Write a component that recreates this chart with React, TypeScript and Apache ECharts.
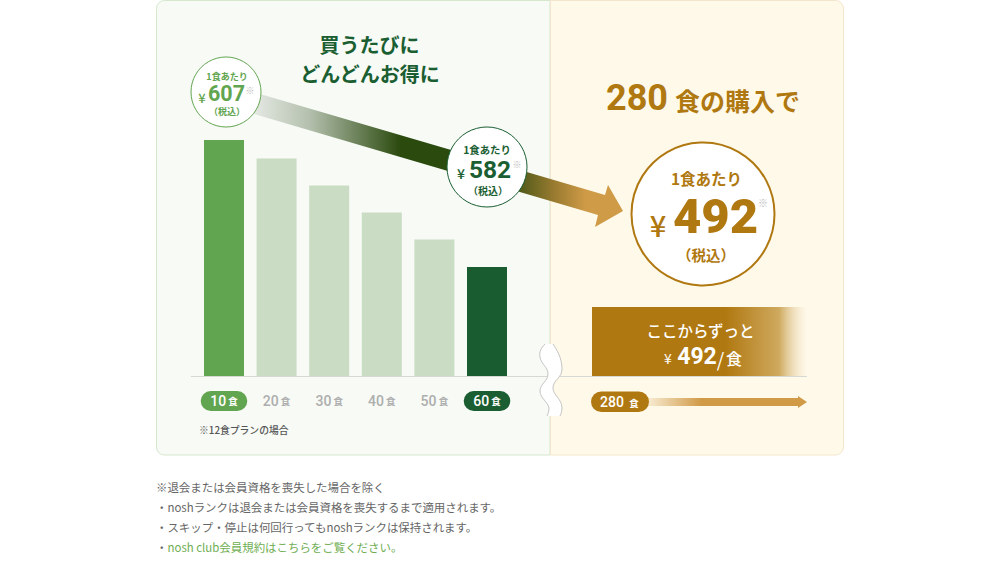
import { useEffect, useRef } from 'react';
import * as echarts from 'echarts';

const categories = ['10', '20', '30', '40', '50', '60'];
const barHeights = [100, 92.2, 80.7, 69.3, 57.8, 46.2];
const longTermCategory = ['280'];
const longTermHeight = [29.2];
const prices = ['607', '582', '492'];

const notes = [
  '※退会または会員資格を喪失した場合を除く',
  '・noshランクは退会または会員資格を喪失するまで適用されます。',
  '・スキップ・停止は何回行ってもnoshランクは保持されます。',
];

const GREEN = '#62a550';
const PALE = '#cadcc4';
const DARK = '#1a5e32';
const GOLD = '#b07810';
const MARK = '#b8b8b8';
const JP = '"Noto Sans CJK JP", sans-serif';
const NUM = 'Roboto, "Noto Sans CJK JP", sans-serif';

// くねくねの省略マーク
const waveLeft = 'M545 344 C541 348 539 352 540 357 C541 364 548 367 548 374 C548 381 540 384 540 391 C540 398 548 402 549 408 C549 411 548 414 547 416';
const waveRight = 'M553 344 C557 350 562 358 562 369 C562 378 553 380 553 388 C553 395 562 399 562 408 C562 411 561 414 560 416';
const waveFill = waveLeft + ' L560 416 C561 414 562 411 562 408 C562 399 553 395 553 388 C553 380 562 378 562 369 C562 358 557 350 553 344 Z';

echarts.graphic.registerShape('waveLeft', echarts.graphic.extendPath(waveLeft, {}) as any);
echarts.graphic.registerShape('waveRight', echarts.graphic.extendPath(waveRight, {}) as any);
echarts.graphic.registerShape('waveFill', echarts.graphic.extendPath(waveFill, {}) as any);

const label = (
  text: string,
  x: number,
  y: number,
  fontSize: number,
  fill: string,
  fontWeight: number | string = 700,
  align: string = 'center',
  fontFamily: string = JP,
) => ({
  type: 'text',
  z: 20,
  style: { text, x, y, fontSize, fill, fontWeight, fontFamily, align, verticalAlign: 'middle' },
});

const circle = (cx: number, cy: number, r: number, stroke: string, lineWidth: number) => ({
  type: 'circle',
  z: 15,
  shape: { cx, cy, r },
  style: { fill: '#fff', stroke, lineWidth },
});

const pillStyle = (backgroundColor: string) => ({
  backgroundColor,
  borderRadius: 11,
  padding: [3, 9.5, 3, 9.5],
});

export default function App() {
  const chartRef = useRef<HTMLDivElement>(null);

  useEffect(() => {
    if (!chartRef.current) return;
    const chart = echarts.init(chartRef.current, null, { renderer: 'svg' });

    const arrowGradient = new echarts.graphic.LinearGradient(
      250, 0, 600, 0,
      [
        { offset: 0, color: '#e8ece6' },
        { offset: 0.17, color: '#b4c0ae' },
        { offset: 0.43, color: '#2b4a0e' },
        { offset: 0.72, color: '#2b4a0e' },
        { offset: 0.87, color: '#9a7b30' },
        { offset: 0.96, color: '#cf9b47' },
        { offset: 1, color: '#cf9b47' },
      ],
      true,
    );

    const option: any = {
      animation: false,
      backgroundColor: '#fff',
      grid: [
        { left: 197.7, width: 315.6, top: 140, height: 236 },
        { left: 592, width: 215, top: 140, height: 236 },
      ],
      xAxis: [
        {
          type: 'category',
          gridIndex: 0,
          data: categories.map((c, i) => ({
            value: c,
            textStyle: i === 0 ? pillStyle(GREEN) : i === 5 ? pillStyle(DARK) : pillStyle('transparent'),
          })),
          axisLine: { show: false },
          axisTick: { show: false },
          axisLabel: {
            interval: 0,
            margin: 15,
            formatter: (v: string) => {
              const on = v === categories[0] || v === categories[5];
              return on ? `{on|${v}}{onU| 食}` : `{off|${v}}{offU| 食}`;
            },
            rich: {
              on: { fontFamily: NUM, fontSize: 14, fontWeight: 500, color: '#fff' },
              onU: { fontFamily: JP, fontSize: 9.5, fontWeight: 700, color: '#fff' },
              off: { fontFamily: NUM, fontSize: 14, fontWeight: 500, color: '#aeaeae' },
              offU: { fontFamily: JP, fontSize: 9.5, fontWeight: 700, color: '#aeaeae' },
            },
          },
        },
        {
          type: 'category',
          gridIndex: 1,
          data: longTermCategory,
          axisLine: { show: false },
          axisTick: { show: false },
          axisLabel: { show: false },
        },
      ],
      yAxis: [
        { type: 'value', gridIndex: 0, min: 0, max: 100, show: false },
        { type: 'value', gridIndex: 1, min: 0, max: 100, show: false },
      ],
      series: [
        {
          type: 'bar',
          xAxisIndex: 0,
          yAxisIndex: 0,
          barWidth: 40,
          data: barHeights.map((v, i) => ({
            value: v,
            itemStyle: { color: i === 0 ? GREEN : i === 5 ? '#185c30' : PALE },
          })),
        },
        {
          type: 'bar',
          xAxisIndex: 1,
          yAxisIndex: 1,
          barWidth: '100%',
          data: longTermHeight,
          itemStyle: {
            color: new echarts.graphic.LinearGradient(0, 0, 1, 0, [
              { offset: 0, color: GOLD },
              { offset: 0.62, color: GOLD },
              { offset: 0.87, color: '#cfa95f' },
              { offset: 1, color: 'rgba(255,249,234,0.4)' },
            ]),
          },
        },
      ],
      graphic: {
        elements: [
          // パネル
          {
            type: 'rect',
            z: -2,
            shape: { x: 156.5, y: 0.5, width: 393.5, height: 454.5, r: [8, 0, 0, 8] },
            style: { fill: '#f7faf5', stroke: '#d5e8cd', lineWidth: 1 },
          },
          {
            type: 'rect',
            z: -2,
            shape: { x: 550.5, y: 0.5, width: 293, height: 454.5, r: [0, 8, 8, 0] },
            style: { fill: '#fff9ea', stroke: '#f4e6cc', lineWidth: 1 },
          },
          {
            type: 'line',
            z: -1,
            shape: { x1: 191, y1: 376.5, x2: 807, y2: 376.5 },
            style: { stroke: '#d6d9d3', lineWidth: 1 },
          },

          // 見出し
          label('買うたびに', 369.5, 44, 20, DARK),
          label('どんどんお得に', 370, 73, 20, DARK),
          label('280', 637, 98, 36, GOLD, 700, 'center', NUM),
          label('食の購入で', 737.5, 100, 25, GOLD),

          // 矢印
          {
            type: 'polygon',
            z: 10,
            shape: {
              points: [
                [250, 91], [605, 195], [608, 185], [623, 211],
                [595, 227], [598, 215], [244, 111],
              ],
            },
            style: { fill: arrowGradient },
          },

          // 607
          circle(226, 92, 35, GREEN, 1),
          label('1食あたり', 227, 76, 9, GREEN),
          label('¥', 202, 97, 13, GREEN, 500),
          label(prices[0], 226.5, 93.5, 21.5, GREEN, 700, 'center', NUM),
          label('※', 250, 90, 9, MARK, 400),
          label('（税込）', 227, 111, 9, GREEN),

          // 582
          circle(487, 167, 40, DARK, 1),
          label('1食あたり', 487, 149, 10.4, DARK),
          label('¥', 461, 173, 14, DARK, 500),
          label(prices[1], 490, 169, 24.5, DARK, 700, 'center', NUM),
          label('※', 517, 164, 9, MARK, 400),
          label('（税込）', 488, 190, 10, DARK),

          // 492
          circle(703, 214, 71.5, GOLD, 2),
          label('1食あたり', 706.5, 178, 15.5, GOLD),
          label('¥', 658, 224, 29, GOLD, 500),
          label(prices[2], 715.5, 216, 49, GOLD, 900, 'center', NUM),
          label('※', 763, 202, 10, MARK, 400),
          label('（税込）', 706, 254, 14.5, GOLD),

          // 帯
          label('ここからずっと', 700.5, 330, 15.5, '#fff', 500),
          label('¥', 668, 358, 14, '#fff', 400),
          label(prices[2], 697, 356, 23, '#fff', 700, 'center', NUM),
          label('/', 720.5, 358, 19, '#fff', 400),
          label('食', 734, 358, 16, '#fff', 500),

          // 280食
          {
            type: 'polygon',
            z: 5,
            shape: {
              points: [
                [645, 398], [798, 398], [798, 396], [807, 402],
                [798, 408], [798, 406], [645, 406],
              ],
            },
            style: {
              fill: new echarts.graphic.LinearGradient(645, 0, 807, 0, [
                { offset: 0, color: 'rgba(208,154,71,0.1)' },
                { offset: 0.35, color: '#d09a47' },
                { offset: 1, color: '#d09a47' },
              ], true),
            },
          },
          {
            type: 'rect',
            z: 10,
            shape: { x: 591, y: 391.5, width: 58, height: 20.5, r: 10.25 },
            style: { fill: GOLD },
          },
          label(longTermCategory[0], 612, 402, 14, '#fff', 500, 'center', NUM),
          label('食', 634, 402.5, 9.5, '#fff'),

          // 省略マーク
          { type: 'waveFill', z: 12, x: 0, y: 0, style: { fill: '#fff' } },
          { type: 'waveLeft', z: 13, x: 0, y: 0, style: { fill: 'none', stroke: '#c4c4c4', lineWidth: 1 } },
          { type: 'waveRight', z: 13, x: 0, y: 0, style: { fill: 'none', stroke: '#c4c4c4', lineWidth: 1 } },

          // 注記
          label('※12食プランの場合', 199, 429.5, 9.8, '#555', 500, 'left'),
          label(notes[0], 156, 487, 11.45, '#666', 400, 'left'),
          label(notes[1], 156, 507, 11.45, '#666', 400, 'left'),
          label(notes[2], 156, 527, 11.45, '#666', 400, 'left'),
          label('・', 156, 547, 11.45, '#666', 400, 'left'),
          label('nosh club会員規約はこちらをご覧ください。', 167.5, 547, 11.45, '#6fae52', 400, 'left'),
        ],
      },
    };

    chart.setOption(option);

    return () => {
      chart.dispose();
    };
  }, []);

  return (
    <div
      ref={chartRef}
      style={{ position: 'absolute', left: 0, top: 0, width: 1000, height: 563 }}
    />
  );
}
